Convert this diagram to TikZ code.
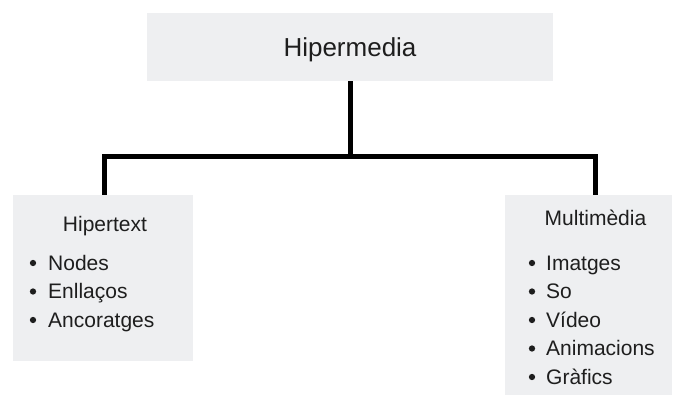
\documentclass[tikz,border=0pt]{standalone}
\usepackage{fontspec}
\setmainfont{Liberation Sans}
\definecolor{boxgray}{HTML}{EEEFF1}
\definecolor{ink}{HTML}{1E1E1E}
\begin{document}
\begin{tikzpicture}[x=1pt,y=-1pt,
  panel/.style={fill=boxgray,draw=none,inner sep=0pt,rectangle},
  headtext/.style={text=ink,inner sep=0pt,anchor=base,font=\fontsize{26}{30}\selectfont},
  titletext/.style={text=ink,inner sep=0pt,anchor=base,font=\fontsize{21}{25}\selectfont},
  itemtext/.style={text=ink,inner sep=0pt,anchor=base west,font=\fontsize{21}{25}\selectfont},
  dot/.style={circle,fill=ink,inner sep=0pt,minimum size=6.3pt},
  conn/.style={line width=5pt,black,line join=miter}]
\useasboundingbox (0,0) rectangle (674,397);

% boxes
\node[panel,minimum width=406pt,minimum height=68pt] (top) at (350,47) {};
\node[panel,minimum width=180pt,minimum height=166pt] (left) at (103,278) {};
\node[panel,minimum width=167pt,minimum height=200pt] (right) at (588.5,295) {};

% connectors
\coordinate (lc) at (104.5,156.5);
\coordinate (rc) at (595.5,156.5);
\draw[conn] (top.south) -- (top.south |- lc);
\draw[conn] (lc |- left.north) -- (lc) -- (rc) -- (rc |- right.north);

% titles
\node[headtext] (tHiper) at (350,56) {Hipermedia};
\node[titletext] (tText) at (105,231) {Hipertext};
\node[titletext] (tMulti) at (595.5,225) {Multimèdia};

% left list
\node[dot] (lb1) at (33,263) {};
\node[itemtext] (li1) at (48,270) {Nodes};
\node[dot] (lb2) at (33,291.5) {};
\node[itemtext] (li2) at (48,298.5) {Enllaços};
\node[dot] (lb3) at (33,320) {};
\node[itemtext] (li3) at (48,327) {Ancoratges};

% right list
\node[dot] (rb1) at (532,263) {};
\node[itemtext] (ri1) at (546,270) {Imatges};
\node[dot] (rb2) at (532,291.5) {};
\node[itemtext] (ri2) at (546,298.5) {So};
\node[dot] (rb3) at (532,320) {};
\node[itemtext] (ri3) at (546,327) {Vídeo};
\node[dot] (rb4) at (532,348.5) {};
\node[itemtext] (ri4) at (546,355.5) {Animacions};
\node[dot] (rb5) at (532,377) {};
\node[itemtext] (ri5) at (546,384) {Gràfics};
\end{tikzpicture}
\end{document}
